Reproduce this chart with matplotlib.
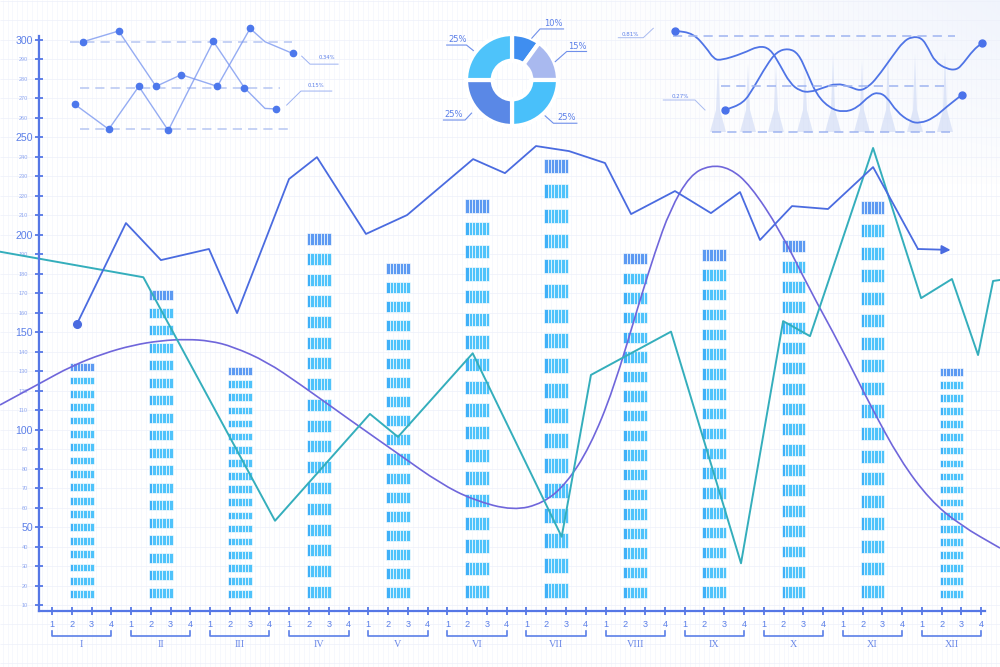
import numpy as np
import matplotlib
matplotlib.use("Agg")
import matplotlib.pyplot as plt
from matplotlib.ticker import FixedLocator, FixedFormatter
from matplotlib.path import Path
from matplotlib.patches import PathPatch

# ---------------- data ----------------
months = ["I", "II", "III", "IV", "V", "VI", "VII", "VIII", "IX", "X", "XI", "XII"]
week_labels = ["1", "2", "3", "4"]
bar_values = [134, 171.5, 132, 201, 185.5, 218, 239, 190.5, 192.5, 197, 217, 131.5]

blue_x = [1.26, 3.74, 5.51, 7.94, 9.36, 11.99, 13.40, 15.88, 17.96, 21.30, 22.91, 24.48,
          26.15, 27.97, 29.29, 31.51, 33.33, 34.80, 35.81, 37.43, 39.25, 41.53, 43.80, 45.45]
blue_y = [154.1, 205.9, 186.9, 192.6, 159.7, 228.5, 239.7, 200.3, 210.0, 238.7, 231.5, 245.4,
          242.8, 236.7, 210.5, 222.3, 211.0, 221.8, 197.2, 214.6, 213.1, 234.6, 192.6, 192.1]

teal_x = [-2.63, 4.62, 11.28, 16.08, 17.50, 21.28, 25.78, 27.26, 31.31, 34.85, 36.98, 38.34,
          41.53, 43.96, 45.52, 46.84, 47.60, 47.95]
teal_y = [191.2, 178.1, 53.2, 108.0, 96.2, 139.1, 45.0, 128.0, 150.2, 31.4, 155.6, 147.9,
          244.4, 167.4, 177.2, 138.2, 176.2, 176.7]

purple_x = [-2.63, -0.61, 1.00, 2.60, 4.10, 5.50, 6.81, 8.00, 9.16, 10.86, 12.54, 15.07, 17.60,
            19.63, 21.31, 23.33, 24.85, 26.03, 27.21, 28.39, 29.74, 30.50, 31.26, 32.27, 33.28,
            34.29, 35.31, 36.82, 38.34, 39.86, 41.38, 42.89, 44.41, 45.93, 47.95]
purple_y = [112.6, 123.7, 132.6, 139.0, 143.3, 145.6, 146.3, 145.5, 142.5, 134.8, 123.3, 104.9,
            86.9, 72.4, 63.8, 58.4, 62.2, 72.4, 91.2, 120.3, 166.4, 191.0, 212.6, 230.5, 235.6,
            234.1, 225.4, 202.3, 171.5, 143.3, 112.6, 84.4, 63.8, 51.0, 39.2]

# small chart (top-left), shares main value axis
tl_a_x = [1.57, 3.37, 5.26, 6.54, 8.36, 10.02, 10.77, 12.17]
tl_a_y = [298.9, 304.4, 276.0, 282.0, 276.0, 305.7, 298.9, 292.9]
tl_b_x = [1.15, 2.87, 4.39, 5.88, 8.16, 9.73, 10.77, 11.35]
tl_b_y = [266.8, 254.0, 276.0, 253.4, 299.1, 275.3, 264.7, 264.4]
tl_ref_y = [298.7, 275.1, 254.1]
tl_ref_x0 = [0.91, 1.42, 1.42]
tl_ref_x1 = [12.14, 11.53, 11.94]
tl_labels = ["0.34%", "0.15%"]

# donut
donut_values = [10, 15, 25, 25, 25]
donut_labels = ["10%", "15%", "25%", "25%", "25%"]

# top-right chart
tr_c1_x = [65, 83.3, 96.7, 103.3, 110, 133.3, 148.3, 160, 170, 180, 190, 200, 213.3, 226.7, 240,
           250, 258.3, 266.7, 283.3, 293.3, 301.7, 311.7, 318.3, 325, 336.7, 346.7, 353.3, 363.3, 371.7]
tr_c1_y = [109.3, 106.7, 91.7, 81.7, 79.3, 86.7, 94, 91.7, 75, 56.7, 49, 47.7, 52.3, 56.7, 53.3,
           49, 53.3, 61.7, 85, 98.3, 103.3, 102.3, 91.7, 78.3, 71, 70, 76.7, 90, 96.7]
tr_c2_x = [115, 133.3, 143.3, 156.7, 166.7, 178.3, 188.3, 196.7, 206.7, 220, 233.3, 246.7, 260,
           268.3, 276.7, 286.7, 300, 310, 323.3, 336.7, 351.7]
tr_c2_y = [30, 36.7, 51.7, 75, 88.3, 91.7, 86.7, 68.3, 45, 31.7, 27.7, 31.7, 45, 47.7, 43.3,
           28.3, 18.3, 16.7, 21.7, 33.3, 45]
tr_spike_x = [108, 138, 166, 195, 223, 252, 278, 305, 335]
tr_spike_h = [82, 76, 76, 72, 86, 80, 86, 86, 88]
tr_labels = ["0.81%", "0.27%"]

# ---------------- style ----------------
AX = "#5577e6"
LBL = "#5b7fe8"
LBL2 = "#8ea6f0"
BLUE = "#4a6be0"
TEAL = "#34aebc"
PURPLE = "#6f66db"


def smooth_line(axis, xs, ys, **kw):
    """Draw a smooth curve through the read points using quadratic Bezier path segments."""
    pts = np.column_stack([xs, ys])
    verts = [pts[0], (pts[0] + pts[1]) / 2]
    codes = [Path.MOVETO, Path.LINETO]
    for i in range(1, len(pts) - 1):
        verts += [pts[i], (pts[i] + pts[i + 1]) / 2]
        codes += [Path.CURVE3, Path.CURVE3]
    verts.append(pts[-1])
    codes.append(Path.LINETO)
    axis.add_patch(PathPatch(Path(verts, codes), fill=False, **kw))


fig = plt.figure(figsize=(10, 6.67), dpi=100)
fig.patch.set_facecolor("white")
ax = fig.add_axes([0, 0, 1, 1])
ax.set_xlim(-2.63, 47.95)
ax.set_ylim(-21.8, 320.3)
ax.set_facecolor("white")

# soft tint top-right (fades leftwards and downwards)
gx = np.linspace(0, 1, 256)[None, :] ** 1.6
gy = np.linspace(0, 1, 128)[:, None] ** 0.8
alpha = (gx * gy) * 0.32
ax.imshow(np.dstack([np.full_like(alpha, 0.82), np.full_like(alpha, 0.87), np.full_like(alpha, 0.97), alpha]),
          extent=(22, 47.95, 225, 320.3), aspect="auto", zorder=0, interpolation="bicubic", origin="lower")

# faint graph-paper grid
ax.vlines(np.arange(-2.5, 48, 0.25), -21.8, 320.3, color="#f2f4fc", lw=0.45, zorder=0.5)
ax.hlines(np.arange(-20, 321, 10), -2.63, 47.95, color="#edf0fa", lw=0.5, zorder=0.5)

# spines
for s in ["top", "right"]:
    ax.spines[s].set_visible(False)
ax.spines["left"].set_position(("data", -0.658))
ax.spines["left"].set_bounds(7, 302)
ax.spines["bottom"].set_position(("data", 7))
ax.spines["bottom"].set_bounds(-0.658, 47.19)
for s in ["left", "bottom"]:
    ax.spines[s].set_color(AX)
    ax.spines[s].set_linewidth(1.6)
    ax.spines[s].set_zorder(7)

major_y = [50, 100, 150, 200, 250, 300]
minor_y = [v for v in range(10, 300, 10) if v % 50]
ax.yaxis.set_major_locator(FixedLocator(major_y))
ax.yaxis.set_major_formatter(FixedFormatter([str(v) for v in major_y]))
ax.yaxis.set_minor_locator(FixedLocator(minor_y))
ax.yaxis.set_minor_formatter(FixedFormatter([str(v) for v in minor_y]))
ax.tick_params(axis="y", which="major", direction="inout", length=6, width=1.3, color=AX,
               labelsize=7.6, labelcolor=LBL, pad=1.5)
ax.tick_params(axis="y", which="minor", direction="inout", length=6, width=1.3, color=AX,
               labelsize=4, labelcolor=LBL2, pad=5)

xt = np.arange(len(months) * 4)
ax.xaxis.set_major_locator(FixedLocator(xt))
ax.xaxis.set_major_formatter(FixedFormatter(week_labels * len(months)))
ax.tick_params(axis="x", which="major", direction="inout", length=6, width=1.3, color=AX,
               labelsize=6.6, labelcolor=LBL, pad=3.5)
for t in ax.get_xticklabels() + ax.get_yticklabels() + ax.get_yminorticklabels():
    t.set_fontfamily("Liberation Sans")

# month brackets + roman numerals
for m, name in enumerate(months):
    x0, x1 = 4 * m, 4 * m + 3
    ax.plot([x0, x0, x1, x1], [-3.3, -5.9, -5.9, -3.3], color=LBL, lw=1.2, clip_on=False, zorder=7)
    ax.text((x0 + x1) / 2, -10.5, name, ha="center", va="center", fontsize=7.3,
            family="Liberation Serif", color="#6a88e8")

# segmented bars
base, nseg, fill, bw, nstripe = 13.6, 18, 0.58, 1.2, 7
sx, sb, sh, sc = [], [], [], []
for m, v in enumerate(bar_values):
    period = (v - base) / (nseg - 1 + fill)
    left = 4 * m + 1.5 - bw / 2
    for k in range(nseg):
        top = v - k * period
        for s in range(nstripe):
            sx.append(left + s * bw / nstripe)
            sb.append(top - fill * period)
            sh.append(fill * period)
            if k == 0:
                sc.append("#5c9af2")
            elif s == 0:
                sc.append("#3fb0f8")
            else:
                sc.append("#4fc3fb")
ax.bar(sx, sh, width=bw / nstripe, bottom=sb, align="edge", color=sc, edgecolor="white",
       linewidth=0.45, zorder=2)

# lines
smooth_line(ax, purple_x, purple_y, edgecolor=PURPLE, lw=1.2, zorder=4)
ax.plot(teal_x, teal_y, color=TEAL, lw=1.4, zorder=5)
ax.plot(blue_x[:-1], blue_y[:-1], color=BLUE, lw=1.3, zorder=6)
ax.annotate("", xy=(blue_x[-1], blue_y[-1]), xytext=(blue_x[-2], blue_y[-2]),
            arrowprops=dict(arrowstyle="-|>", color=BLUE, lw=1.3, mutation_scale=13,
                            shrinkA=0, shrinkB=0), zorder=6)
ax.plot(blue_x[0], blue_y[0], "o", ms=5.5, color=BLUE, zorder=6)

# top-left small chart
ax.hlines(tl_ref_y, tl_ref_x0, tl_ref_x1, color="#b6c6f2", lw=1.1, linestyles=(0, (6, 4)), zorder=3)
ax.plot(tl_a_x, tl_a_y, color="#7b98f0", lw=1.0, alpha=0.8, zorder=4)
ax.plot(tl_b_x, tl_b_y, color="#7b98f0", lw=1.0, alpha=0.8, zorder=4)
dot_idx = [0, 1, 2, 3, 4, 5, 7]
ax.plot([tl_a_x[i] for i in dot_idx], [tl_a_y[i] for i in dot_idx], "o", ms=4.5, color="#4d78ec", zorder=5)
ax.plot([tl_b_x[i] for i in dot_idx], [tl_b_y[i] for i in dot_idx], "o", ms=4.5, color="#4d78ec", zorder=5)
ax.plot([12.63, 13.05, 14.47], [291.5, 287.4, 287.4], color="#9db2f2", lw=0.7)
ax.text(13.9, 289.6, tl_labels[0], fontsize=3.8, color=LBL, ha="center", va="bottom")
ax.plot([11.87, 12.59, 14.15], [266.4, 273.6, 273.6], color="#9db2f2", lw=0.7)
ax.text(13.35, 275.3, tl_labels[1], fontsize=3.8, color=LBL, ha="center", va="bottom")

# donut
ax2 = fig.add_axes([0.43, 1 - 130 / 667, 0.18, 120 / 667])
ax2.pie(donut_values, radius=1, startangle=90, counterclock=False,
        colors=["#3f8ef0", "#a9b9ef", "#49c0fa", "#5a88e6", "#4ec3fa"],
        wedgeprops=dict(width=0.58, edgecolor="white", linewidth=3))
ax2.set_aspect("auto")
ax2.set_xlim(-1.783, 2.13)
ax2.set_ylim(-1.087, 1.522)
ax2.axis("off")
lead_c = "#6f8fea"
ax2.plot([0.43, 0.61, 1.12], [0.91, 1.11, 1.11], color=lead_c, lw=0.8)
ax2.text(0.90, 1.13, donut_labels[0], fontsize=6, color=LBL, ha="center", va="bottom")
ax2.plot([0.94, 1.19, 1.62], [0.40, 0.62, 0.62], color=lead_c, lw=0.8)
ax2.text(1.42, 0.64, donut_labels[1], fontsize=6, color=LBL, ha="center", va="bottom")
ax2.plot([-1.42, -0.99, -0.84], [0.76, 0.76, 0.64], color=lead_c, lw=0.8)
ax2.text(-1.19, 0.78, donut_labels[4], fontsize=6, color=LBL, ha="center", va="bottom")
ax2.plot([-1.49, -1.02, -0.88], [-0.87, -0.87, -0.72], color=lead_c, lw=0.8)
ax2.text(-1.26, -0.85, donut_labels[3], fontsize=6, color=LBL, ha="center", va="bottom")
ax2.plot([0.72, 0.90, 1.41], [-0.78, -0.94, -0.94], color=lead_c, lw=0.8)
ax2.text(1.18, -0.92, donut_labels[2], fontsize=6, color=LBL, ha="center", va="bottom")

# top-right chart
ax3 = fig.add_axes([0.61, 1 - 140 / 667, 0.39, 125 / 667])
ax3.set_xlim(0, 390)
ax3.set_ylim(0, 125)
ax3.axis("off")
ax3.patch.set_alpha(0)
for p, h in zip(tr_spike_x, tr_spike_h):
    ax3.fill([p - 8, p - 2, p, p + 2, p + 8], [8, 30, h, 30, 8], color="#c6d3f4", alpha=0.5, lw=0)
ax3.hlines([104, 54, 8.3], [63, 111, 102], [345, 340, 340], color="#9fb4f0", lw=1.1,
           linestyles=(0, (6, 4)))
smooth_line(ax3, tr_c1_x, tr_c1_y, edgecolor="#4f74e6", lw=1.3)
smooth_line(ax3, tr_c2_x, tr_c2_y, edgecolor="#4f74e6", lw=1.3)
ax3.plot([tr_c1_x[0], tr_c1_x[-1], tr_c2_x[0], tr_c2_x[-1]],
         [tr_c1_y[0], tr_c1_y[-1], tr_c2_y[0], tr_c2_y[-1]], "o", ms=5, color="#4a72ea")
ax3.plot([8.3, 33.3, 43.3], [102.3, 102.3, 111.7], color="#a9bbf0", lw=0.7)
ax3.text(20, 103.5, tr_labels[0], fontsize=4, color=LBL, ha="center", va="bottom")
ax3.plot([53.3, 85, 95], [40, 40, 30], color="#a9bbf0", lw=0.7)
ax3.text(70, 41.5, tr_labels[1], fontsize=4, color=LBL, ha="center", va="bottom")

fig.savefig("out.png", dpi=100, facecolor="white")
